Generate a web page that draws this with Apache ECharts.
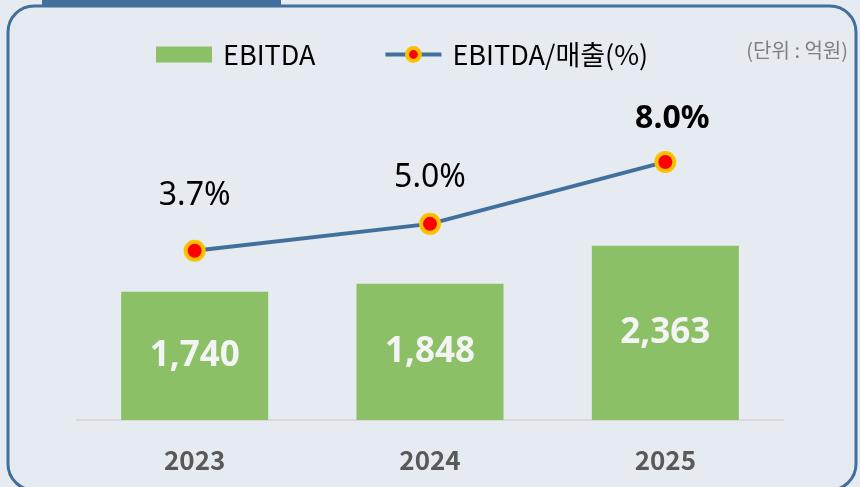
<!DOCTYPE html>
<html>
<head>
<meta charset="utf-8">
<script src="https://cdn.jsdelivr.net/npm/echarts@6/dist/echarts.min.js"></script>
<style>
html, body { margin: 0; padding: 0; background: #e6eaf1; }
#chart { width: 860px; height: 487px; }
</style>
</head>
<body>
<div id="chart"></div>
<script>
var years = ['2023', '2024', '2025'];
var ebitda = [1740, 1848, 2363];
var ebitdaRatio = [3.7, 5.0, 8.0];

var myChart = echarts.init(document.getElementById('chart'));
var frame = '#41709c';
var labelGap = [28, 19, 16]; // label distance above each marker

var ratioData = ebitdaRatio.map(function (v, i) {
    var item = { value: v, label: { distance: labelGap[i] } };
    if (i == ebitdaRatio.length - 1) {
        item.label.fontWeight = 'bold';
        item.label.offset = [7, 0];
    }
    return item;
});

var option = {
    backgroundColor: '#e6eaf1',
    animation: false,
    graphic: [
        {
            type: 'rect',
            z: -10,
            shape: { x: 8, y: 6, width: 848, height: 484, r: 26 },
            style: { fill: 'transparent', stroke: frame, lineWidth: 3 }
        },
        {
            type: 'rect',
            z: -9,
            shape: { x: 42, y: 0, width: 239, height: 6 },
            style: { fill: frame }
        },
        {
            type: 'text',
            right: 12,
            top: 40,
            style: {
                text: '(단위 : 억원)',
                fill: '#7f7f7f',
                font: '20px "Noto Sans CJK KR"'
            }
        }
    ],
    legend: {
        left: 151,
        top: 36,
        itemGap: 68,
        itemWidth: 56,
        itemHeight: 16,
        textStyle: {
            fontFamily: 'Noto Sans CJK KR',
            fontSize: 27,
            color: '#000',
            padding: [0, 0, 0, 6]
        },
        data: [
            { name: 'EBITDA', icon: 'rect' },
            {
                name: 'EBITDA/매출(%)',
                lineStyle: { width: 4, color: frame },
                itemStyle: { borderWidth: 4, borderColor: '#ffc000', color: '#ff0000' }
            }
        ]
    },
    grid: { left: 77, right: 77, top: 100, bottom: 67 },
    xAxis: {
        type: 'category',
        data: years,
        axisTick: { show: false },
        axisLine: { lineStyle: { color: '#d9d9d9', width: 2 } },
        axisLabel: {
            color: '#595959',
            fontSize: 26,
            fontWeight: 'bold',
            fontFamily: 'Noto Sans CJK KR',
            margin: 27
        }
    },
    yAxis: [
        { type: 'value', min: 0, max: 4340, show: false, splitLine: { show: false } },
        { type: 'value', min: -4.5, max: 11, show: false, splitLine: { show: false } }
    ],
    series: [
        {
            name: 'EBITDA',
            type: 'bar',
            barWidth: 147,
            itemStyle: { color: '#8cc066' },
            label: {
                show: true,
                position: 'inside',
                color: '#f4f4f4',
                fontSize: 35,
                fontWeight: 'bold',
                fontFamily: 'Open Sans',
                formatter: function (p) { return p.value.toLocaleString('en-US'); }
            },
            data: ebitda
        },
        {
            name: 'EBITDA/매출(%)',
            type: 'line',
            yAxisIndex: 1,
            symbol: 'circle',
            symbolSize: 18,
            itemStyle: { color: '#ff0000', borderColor: '#ffc000', borderWidth: 4 },
            lineStyle: { color: frame, width: 4 },
            label: {
                show: true,
                position: 'top',
                color: '#000',
                fontSize: 32,
                fontFamily: 'Noto Sans',
                formatter: function (p) { return p.value.toFixed(1) + '%'; }
            },
            data: ratioData
        }
    ]
};
myChart.setOption(option);
</script>
</body>
</html>
